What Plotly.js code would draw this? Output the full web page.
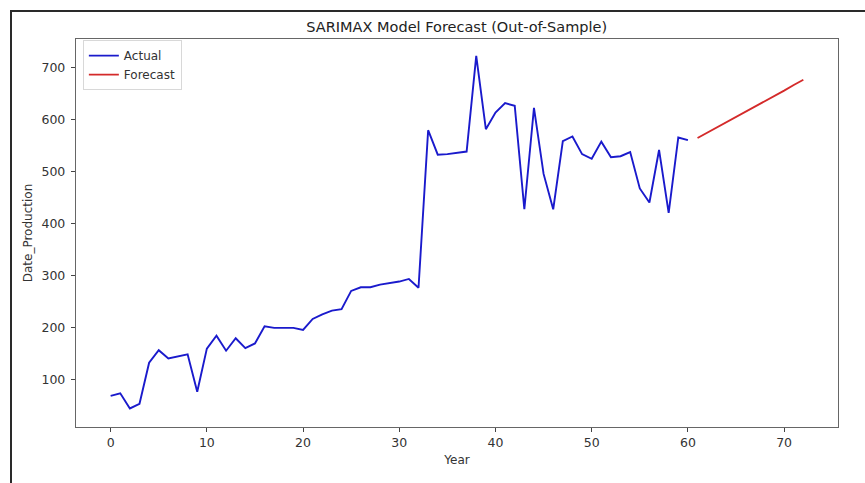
<!DOCTYPE html>
<html>
<head>
<meta charset="utf-8">
<script src="https://cdn.plot.ly/plotly-3.0.1.min.js"></script>
<style>
  html, body { margin: 0; padding: 0; background: #fff; }
  #wrap { position: relative; width: 865px; height: 483px; overflow: hidden; }
  #chart { width: 865px; height: 483px; }
  #frame { position: absolute; left: 10px; top: 10px; width: 870px; height: 480px;
           border-left: 2px solid #2a2a2a; border-top: 2px solid #2a2a2a; pointer-events: none; }
</style>
</head>
<body>
<div id="wrap">
  <div id="chart"></div>
  <div id="frame"></div>
</div>
<script>
const actualYears = Array.from({length: 61}, (_, i) => i);
const actualValues = [
  68, 73, 44, 53, 132, 156, 140, 144, 148, 76,
  159, 184, 155, 179, 160, 169, 202, 199, 199, 199,
  195, 216, 225, 232, 235, 270, 277, 277, 282, 285,
  288, 293, 276, 579, 532, 533, 535, 538, 722, 581,
  613, 631, 626, 427, 622, 495, 427, 558, 567, 533,
  524, 557, 527, 529, 537, 467, 440, 541, 420, 565,
  560
];
const forecastYears = [61, 62, 63, 64, 65, 66, 67, 68, 69, 70, 71, 72];
const forecastValues = [564, 574, 584, 594, 605, 615, 625, 635, 645, 655, 666, 676];
const xTicks = [0, 10, 20, 30, 40, 50, 60, 70];
const yTicks = [100, 200, 300, 400, 500, 600, 700];

const font = "DejaVu Sans, sans-serif";

const traces = [
  { x: actualYears, y: actualValues, type: 'scatter', mode: 'lines', name: 'Actual',
    line: { color: '#1a1acc', width: 1.9 } },
  { x: forecastYears, y: forecastValues, type: 'scatter', mode: 'lines', name: 'Forecast',
    line: { color: '#d42a2a', width: 1.9 } }
];

const axisCommon = {
  showgrid: false, zeroline: false, showline: true, mirror: true,
  linecolor: '#666', linewidth: 1.2, ticks: 'outside', ticklen: 4, tickwidth: 1,
  tickcolor: '#444', tickfont: { family: font, size: 12.5, color: '#333' }
};

const layout = {
  width: 865, height: 483,
  margin: { l: 76, r: 27, t: 39, b: 56 },
  paper_bgcolor: '#fff', plot_bgcolor: '#fff',
  title: { text: 'SARIMAX Model Forecast (Out-of-Sample)', x: 0.528, xanchor: 'center',
           y: 0.944, yanchor: 'middle',
           font: { family: font, size: 14.5, color: '#222' } },
  xaxis: Object.assign({}, axisCommon, {
    range: [-3.6, 75.6], tickvals: xTicks, ticktext: xTicks.map(String),
    title: { text: 'Year', standoff: 6, font: { family: font, size: 12, color: '#333' } }
  }),
  yaxis: Object.assign({}, axisCommon, {
    range: [8.3, 754.4], tickvals: yTicks, ticktext: yTicks.map(String),
    ticklabelstandoff: 3,
    title: { text: 'Date_Production', standoff: 6, font: { family: font, size: 12, color: '#333' } }
  }),
  legend: { x: 0.009, y: 0.997, xanchor: 'left', yanchor: 'top',
            bgcolor: 'rgba(255,255,255,0.9)', bordercolor: '#d8d8d8', borderwidth: 1,
            font: { family: font, size: 12, color: '#333' }, tracegroupgap: 0 },
  showlegend: true
};

Plotly.newPlot('chart', traces, layout, { displayModeBar: false, staticPlot: true });
</script>
</body>
</html>
